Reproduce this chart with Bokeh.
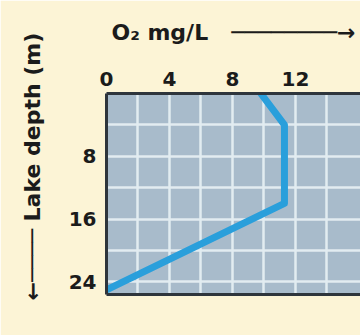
from bokeh.plotting import figure
from bokeh.models import Range1d, FixedTicker, LinearAxis, Title
from bokeh.embed import file_html
from bokeh.resources import INLINE

# ---- data ----
o2_mg_per_l = [9.8, 11.3, 11.3, 0.0]      # dissolved oxygen
depth_m = [0.0, 4.0, 14.0, 25.0]          # lake depth
x_ticks = [0, 4, 8, 12]
y_ticks = [8, 16, 24]
x_grid = [2, 4, 6, 8, 10, 12, 14]
y_grid = [4, 8, 12, 16, 20, 24]
x_title = "O\u2082 mg/L" + "\u00a0" * 3 + "\u2500" * 8 + "\u2192"
y_title = "\u2190" + "\u2500" * 4 + " Lake depth (m)"

BG = "#FCF4D6"
FRAME = "#A8BBCB"
GRID = "#E2ECF1"
BORDER = "#2E353C"
INK = "#1B1B1B"
BLUE = "#2A9FDB"
FONT = "DejaVu Sans"

p = figure(width=360, height=335,
           x_range=Range1d(0, 16.13), y_range=Range1d(25.6, 0),
           x_axis_location="above",
           output_backend="svg", toolbar_location=None,
           min_border_left=106, min_border_right=0,
           min_border_top=93, min_border_bottom=41)

p.background_fill_color = FRAME
p.border_fill_color = BG
p.outline_line_color = None

# grid
p.xgrid.ticker = FixedTicker(ticks=x_grid)
p.ygrid.ticker = FixedTicker(ticks=y_grid)
for g in (p.xgrid[0], p.ygrid[0]):
    g.grid_line_color = GRID
    g.grid_line_width = 2.5
    g.grid_line_alpha = 1.0

# axes
xa = p.above[0]
xa.ticker = FixedTicker(ticks=x_ticks)
ya = p.left[0]
ya.ticker = FixedTicker(ticks=y_ticks)
for ax, st in ((xa, 2), (ya, 4)):
    ax.major_tick_line_color = None
    ax.minor_tick_line_color = None
    ax.axis_line_color = BORDER
    ax.axis_line_width = 3
    ax.major_label_text_font = FONT
    ax.major_label_text_font_style = "bold"
    ax.major_label_text_font_size = "20px"
    ax.major_label_text_color = INK
    ax.major_label_standoff = st

xa.axis_label = x_title
xa.axis_label_text_font = FONT
xa.axis_label_text_font_style = "bold"
xa.axis_label_text_font_size = "22px"
xa.axis_label_text_color = INK
xa.axis_label_standoff = 24

bottom = LinearAxis(ticker=FixedTicker(ticks=[]),
                    axis_line_color=BORDER, axis_line_width=3,
                    major_tick_line_color=None, minor_tick_line_color=None,
                    major_label_text_font_size="0px")
p.add_layout(bottom, "below")

# y title (offset along the side, like the reference)
p.add_layout(Title(text=y_title, align="left", offset=-6, standoff=38,
                   vertical_align="top",
                   text_font=FONT, text_font_style="bold",
                   text_font_size="22px", text_color=INK), "left")

# oxygen profile
p.line(o2_mg_per_l, depth_m, line_width=7, line_color=BLUE,
       line_join="round", line_cap="round")

open("out.html", "w").write(file_html(p, INLINE))
